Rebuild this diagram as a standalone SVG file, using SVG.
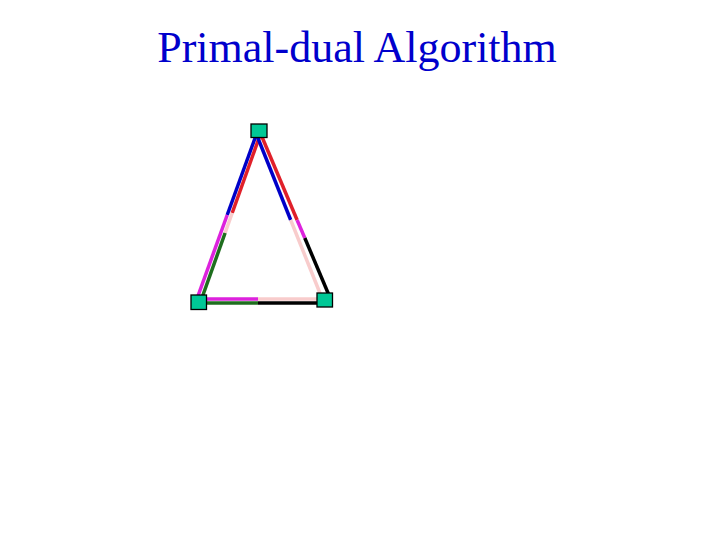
<svg xmlns="http://www.w3.org/2000/svg" width="720" height="540" viewBox="0 0 720 540">
<style>
.title{font-family:"Liberation Serif","Times New Roman",serif;font-size:44px;fill:#0000CC}
.e{stroke-width:3.5;fill:none;stroke-linecap:butt}
.bl{stroke:#0000C8}.rd{stroke:#E0202A}.mg{stroke:#DD22DD}.pk{stroke:#F8CCCC}.gr{stroke:#1E6E1E}.bk{stroke:#000000}
.node{fill:#00C896;stroke:#000000;stroke-width:1.3}
</style>
<rect width="720" height="540" fill="#ffffff"/>
<text class="title" x="357" y="62" text-anchor="middle">Primal-dual Algorithm</text>
<g id="connectors">
<line class="e bl" x1="257.6" y1="131" x2="227.2" y2="215"/>
<line class="e mg" x1="227.2" y1="215" x2="196.5" y2="300"/>
<line class="e rd" x1="261.5" y1="131" x2="232.2" y2="213"/>
<line class="e pk" x1="232.2" y1="213" x2="225.1" y2="233"/>
<line class="e gr" x1="225.1" y1="233" x2="201.2" y2="300"/>
<line class="e bl" x1="255.1" y1="131" x2="290.7" y2="220"/>
<line class="e pk" x1="290.7" y1="220" x2="322.7" y2="300"/>
<line class="e rd" x1="259.5" y1="131" x2="297.1" y2="220"/>
<line class="e mg" x1="297.1" y1="220" x2="304.8" y2="238"/>
<line class="e bk" x1="304.8" y1="238" x2="331" y2="300"/>
<line class="e mg" x1="199" y1="299" x2="258" y2="299"/>
<line class="e pk" x1="258" y1="299" x2="325" y2="299"/>
<line class="e gr" x1="199" y1="303" x2="258" y2="303"/>
<line class="e bk" x1="258" y1="303" x2="325" y2="303"/>
</g>
<g id="node-top"><rect class="node" x="251" y="124" width="16" height="13.5"/></g>
<g id="node-left"><rect class="node" x="191" y="295" width="15.5" height="14.5"/></g>
<g id="node-right"><rect class="node" x="317" y="293" width="15.5" height="14"/></g>
</svg>
